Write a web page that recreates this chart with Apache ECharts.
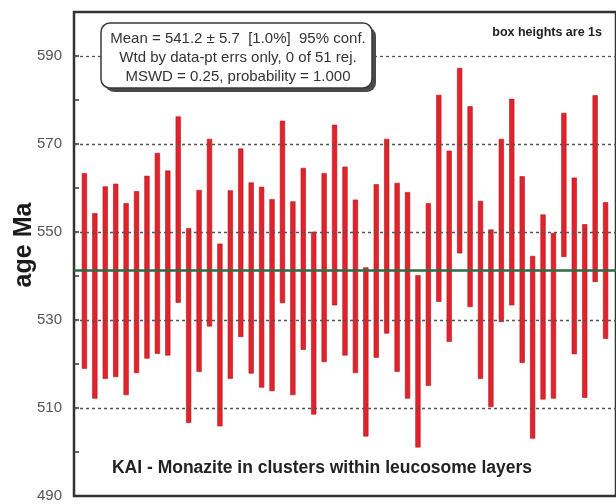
<!DOCTYPE html>
<html>
<head>
<meta charset="utf-8">
<title>KAI monazite ages</title>
<script src="https://cdn.jsdelivr.net/npm/echarts@6/dist/echarts.min.js"></script>
<style>
  html, body { margin: 0; padding: 0; background: #fff; }
  #chart { width: 616px; height: 504px; }
</style>
</head>
<body>
<div id="chart"></div>
<script>
// Spot number of each analysis (x position)
const spotIds = Array.from({ length: 51 }, (_, i) => i + 1);

// Upper and lower edge of each 1s box, Ma
const ageHigh = [
  563.3, 554.2, 560.3, 560.9, 556.5, 559.2, 562.7, 567.9, 563.9, 576.2,
  550.8, 559.5, 571.1, 547.3, 559.4, 568.9, 561.2, 560.2, 557.4, 575.2,
  556.9, 564.5, 550.0, 563.3, 574.3, 564.8, 557.3, 541.9, 560.8, 571.1,
  561.1, 559.0, 540.1, 556.5, 581.1, 568.4, 587.2, 578.5, 557.0, 550.5,
  571.1, 580.2, 562.6, 544.5, 553.9, 549.7, 577.0, 562.3, 551.7, 581.0,
  556.7
];
const ageLow = [
  519.0, 512.2, 516.7, 517.1, 513.0, 518.0, 521.3, 522.4, 522.0, 534.0,
  506.7, 518.3, 528.6, 505.9, 516.7, 526.2, 517.9, 514.7, 513.9, 533.9,
  513.0, 523.3, 508.6, 520.5, 533.4, 522.0, 518.0, 503.6, 521.5, 527.0,
  518.3, 512.2, 501.1, 515.1, 534.2, 525.1, 545.2, 533.0, 516.7, 510.3,
  529.6, 533.4, 520.3, 503.1, 512.0, 512.2, 544.4, 522.3, 512.4, 538.7,
  525.8
];

// Weighted mean age, Ma
const meanAge = 541.2;

// Labelled ticks and dotted reference lines on the age axis
const yTickLabels = [490, 510, 530, 550, 570, 590];
const gridValues = [510, 530, 550, 570, 590];

const statLines = [
  'Mean = 541.2 \u00b1 5.7  [1.0%]  95% conf.',
  'Wtd by data-pt errs only, 0 of 51 rej.',
  'MSWD = 0.25, probability = 1.000'
];
const noteText = 'box heights are 1s';
const sampleTitle = 'KAI - Monazite in clusters within leucosome layers';
const axisTitle = 'age Ma';

const FONT = '"Liberation Sans", Arial, Helvetica, sans-serif';

const boxData = spotIds.map((id, i) => [id, ageLow[i], ageHigh[i]]);

const chart = echarts.init(document.getElementById('chart'), null, { renderer: 'canvas' });

chart.setOption({
  animation: false,
  backgroundColor: '#ffffff',
  grid: {
    left: 74, right: -3, top: 12, bottom: 8,
    show: true, borderColor: '#333', borderWidth: 2.5, backgroundColor: 'transparent'
  },
  xAxis: {
    type: 'value', min: 0, max: 52,
    axisLine: { show: false }, axisTick: { show: false },
    axisLabel: { show: false }, splitLine: { show: false }
  },
  yAxis: {
    type: 'value', min: 490, max: 600, interval: 10,
    axisLine: { show: true, lineStyle: { color: '#333', width: 2 } },
    axisTick: { show: true, inside: true, length: 5, lineStyle: { color: '#333', width: 1.5 } },
    axisLabel: {
      formatter: v => (yTickLabels.includes(v) ? String(v) : ''),
      color: '#555', fontSize: 15, margin: 12, fontFamily: FONT
    },
    splitLine: { show: false }
  },
  series: [
    {
      type: 'custom',
      data: boxData,
      z: 2,
      renderItem: (params, api) => {
        const x = api.value(0);
        const top = api.coord([x, api.value(2)]);
        const bot = api.coord([x, api.value(1)]);
        const w = 4.6;
        return {
          type: 'rect',
          shape: { x: top[0] - w / 2, y: top[1], width: w, height: bot[1] - top[1] },
          style: { fill: '#e1232b', stroke: '#b3161d', lineWidth: 0.6 }
        };
      }
    },
    {
      type: 'line',
      data: [],
      z: 5,
      markLine: {
        silent: true,
        symbol: 'none',
        label: { show: false },
        data: gridValues.map(v => ({
          yAxis: v,
          lineStyle: { color: '#555', width: 1.3, type: [3, 3] }
        })).concat([{
          yAxis: meanAge,
          lineStyle: { color: '#2e6b47', width: 2.6, type: 'solid' }
        }])
      }
    }
  ],
  graphic: [
    // statistics box with drop shadow
    {
      type: 'rect', z: 100,
      shape: { x: 105, y: 27, width: 271, height: 65, r: 9 },
      style: { fill: '#4a4a4a' }
    },
    {
      type: 'rect', z: 101,
      shape: { x: 101, y: 23, width: 271, height: 65, r: 9 },
      style: { fill: '#ffffff', stroke: '#3a3a3a', lineWidth: 1.5 }
    },
    ...statLines.map((t, i) => ({
      type: 'text', z: 102,
      style: {
        text: t, x: 238, y: 38.5 + i * 19.2,
        align: 'center', verticalAlign: 'middle',
        font: '15px ' + FONT, fill: '#333'
      }
    })),
    {
      type: 'text', z: 102,
      style: {
        text: noteText, x: 602, y: 33,
        align: 'right', verticalAlign: 'middle',
        font: 'bold 12.5px ' + FONT, fill: '#222'
      }
    },
    {
      type: 'text', z: 102,
      style: {
        text: sampleTitle, x: 322, y: 468,
        align: 'center', verticalAlign: 'middle',
        font: 'bold 17.5px ' + FONT, fill: '#222'
      }
    },
    {
      type: 'text', z: 102,
      x: 24, y: 245, rotation: Math.PI / 2,
      style: {
        text: axisTitle, x: 0, y: 0,
        align: 'center', verticalAlign: 'middle',
        font: 'bold 25px ' + FONT, fill: '#1a1a1a'
      }
    }
  ]
});
</script>
</body>
</html>
